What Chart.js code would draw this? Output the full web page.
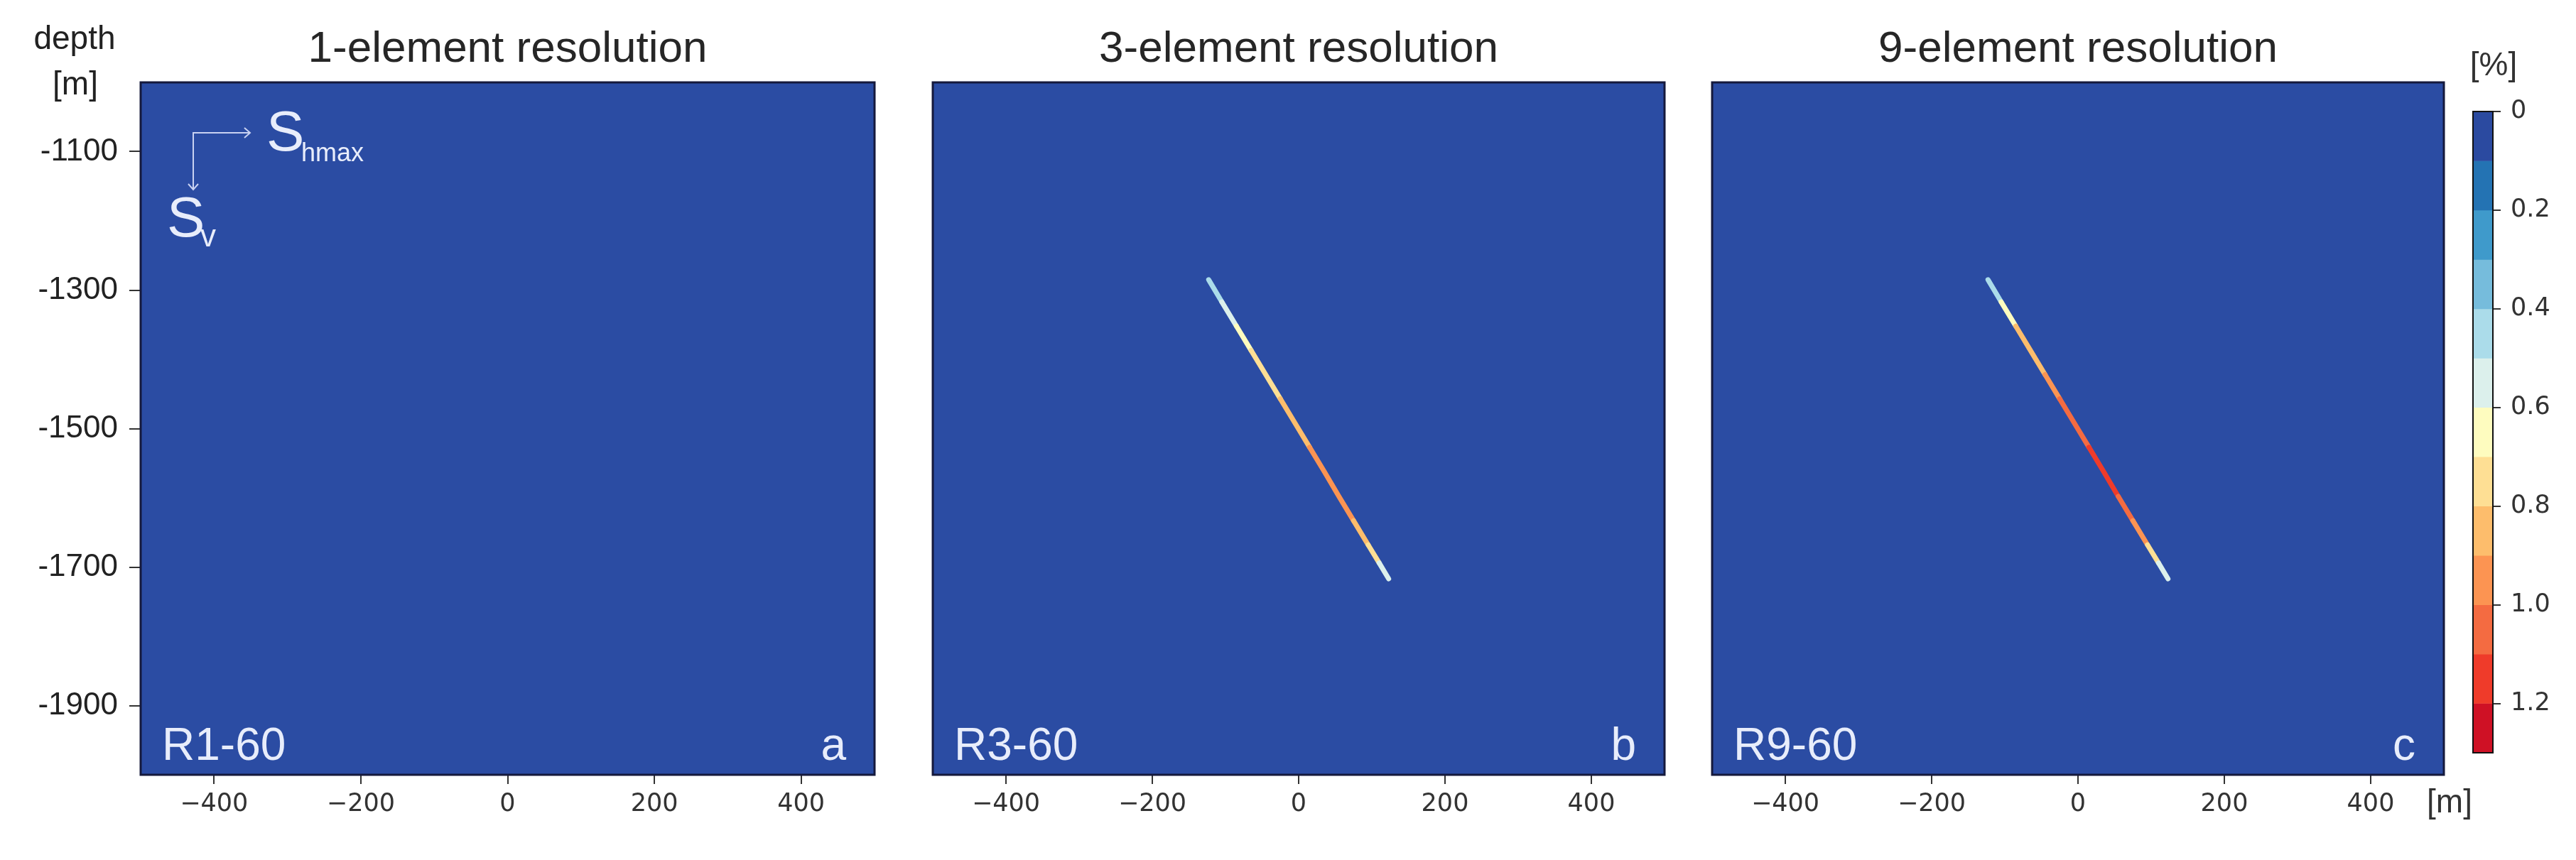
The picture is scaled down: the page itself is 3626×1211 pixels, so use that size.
<!DOCTYPE html>
<html>
<head>
<meta charset="utf-8">
<title>Fault strain by element resolution</title>
<script src="https://cdn.jsdelivr.net/npm/chart.js@4.4.1/dist/chart.umd.min.js"></script>
<style>
  body { margin: 0; background: #fff; width: 3626px; height: 1211px; position: relative; overflow: hidden; }
  canvas { position: absolute; top: 0; }
</style>
</head>
<body>
<canvas id="panelA" width="1262" height="1211" style="left:0px"></canvas>
<canvas id="panelB" width="1100" height="1211" style="left:1280px"></canvas>
<canvas id="panelC" width="1090" height="1211" style="left:2380px"></canvas>
<canvas id="colorbar" width="226" height="1211" style="left:3400px"></canvas>
<script>
// ----------------------------
// DATA
// ----------------------------
const panelTitles = ["1-element resolution", "3-element resolution", "9-element resolution"];
const modelNames = ["R1-60", "R3-60", "R9-60"];
const panelLetters = ["a", "b", "c"];

const xTicks = [-400, -200, 0, 200, 400];
const depthTicks = [-1100, -1300, -1500, -1700, -1900];

// trace of the 60 deg fault [m]
const faultX = [-123, -105, -85, -65, -45, -25, -5, 15, 35, 55, 75, 95, 110, 123];
const faultDepth = [-1285, -1317, -1352, -1387, -1422, -1457, -1492, -1527, -1562, -1598, -1633, -1668, -1694, -1717];

// strain [%] along the fault, rim of the band and its core
const rimR1 = [];
const coreR1 = [];
const rimR3 = [0.35, 0.5, 0.6, 0.65, 0.75, 0.8, 0.85, 0.9, 0.95, 0.95, 0.9, 0.8, 0.6, 0.4];
const coreR3 = [0.35, 0.5, 0.6, 0.7, 0.8, 0.85, 0.9, 1.0, 1.1, 1.1, 1.05, 0.9, 0.65, 0.4];
const rimR9 = [0.35, 0.6, 0.75, 0.85, 0.95, 1.0, 1.05, 1.1, 1.1, 1.1, 1.05, 0.9, 0.65, 0.4];
const coreR9 = [0.35, 0.6, 0.8, 0.95, 1.05, 1.1, 1.15, 1.2, 1.25, 1.25, 1.2, 1.0, 0.7, 0.4];

// colour scale [%]
const levels = [0, 0.1, 0.2, 0.3, 0.4, 0.5, 0.6, 0.7, 0.8, 0.9, 1.0, 1.1, 1.2, 1.3];
const levelColors = ["#2b4aa0", "#2473b3", "#3f9acb", "#76bcdc", "#abdcea", "#dcf0ec", "#fefcbf",
                     "#fedf94", "#fdbd6c", "#fc9452", "#f46b41", "#ef3b2a", "#cf1125"];
const colorbarTicks = [0, 0.2, 0.4, 0.6, 0.8, 1.0, 1.2];

const BG = "#2b4ca3";
const LIGHT = "#e8edfb";

Chart.defaults.font.family = "'Liberation Sans', Arial, sans-serif";
Chart.defaults.color = "#222";

function strainColor(v){
    for(let i = 0; i < levelColors.length; i++){
        if(v < levels[i + 1]) return levelColors[i];
    }
    return levelColors[levelColors.length - 1];
}

function faultDataset(values, width){
    return {
        data: values.map((v, i) => ({ x: faultX[i], y: faultDepth[i] })),
        showLine: true,
        pointRadius: 0,
        borderWidth: width,
        borderCapStyle: "round",
        borderJoinStyle: "round",
        borderColor: values.length ? strainColor(values[0]) : BG,
        segment: {
            borderColor: c => strainColor((values[c.p0DataIndex] + values[c.p1DataIndex]) / 2)
        }
    };
}

// ----------------------------
// PANEL DECORATION
// ----------------------------
const panelDecor = {
    id: "panelDecor",
    beforeDatasetsDraw(chart){
        const a = chart.chartArea, ctx = chart.ctx;
        ctx.save();
        ctx.fillStyle = BG;
        ctx.fillRect(a.left, a.top, a.right - a.left, a.bottom - a.top);
        ctx.restore();
    },
    afterDatasetsDraw(chart, args, opts){
        const a = chart.chartArea, ctx = chart.ctx;
        ctx.save();
        ctx.strokeStyle = "#15193c";
        ctx.lineWidth = 3;
        ctx.strokeRect(a.left, a.top, a.right - a.left, a.bottom - a.top);

        ctx.fillStyle = LIGHT;
        ctx.textBaseline = "alphabetic";
        ctx.font = "64px 'Liberation Sans', Arial";
        ctx.textAlign = "left";
        ctx.fillText(opts.model, a.left + 30, a.bottom - 21);
        ctx.textAlign = "right";
        ctx.fillText(opts.letter, a.right - 40, a.bottom - 21);

        if(opts.stress){
            const cx = a.left + 74, cy = a.top + 71;
            ctx.strokeStyle = "#c9d2f2";
            ctx.lineWidth = 2;
            ctx.beginPath();
            ctx.moveTo(cx + 80, cy); ctx.lineTo(cx, cy); ctx.lineTo(cx, cy + 80);
            ctx.moveTo(cx + 72, cy - 7); ctx.lineTo(cx + 80, cy); ctx.lineTo(cx + 72, cy + 7);
            ctx.moveTo(cx - 7, cy + 72); ctx.lineTo(cx, cy + 80); ctx.lineTo(cx + 7, cy + 72);
            ctx.stroke();

            ctx.textAlign = "left";
            ctx.font = "80px 'Liberation Sans', Arial";
            ctx.fillText("S", a.left + 177, a.top + 96);
            ctx.fillText("S", a.left + 37, a.top + 217);
            ctx.font = "36px 'Liberation Sans', Arial";
            ctx.fillText("hmax", a.left + 226, a.top + 111);
            ctx.font = "44px 'Liberation Sans', Arial";
            ctx.fillText("v", a.left + 84, a.top + 231);

            ctx.fillStyle = "#222";
            ctx.textAlign = "center";
            ctx.textBaseline = "middle";
            ctx.font = "46px 'Liberation Sans', Arial";
            ctx.fillText("depth", 105, 56);
            ctx.fillText("[m]", 106, 120);
        }
        ctx.restore();
    }
};

function makePanel(id, idx, rim, core, padLeft, padRight){
    const first = idx === 0;
    return new Chart(document.getElementById(id), {
        type: "scatter",
        data: { datasets: [faultDataset(rim, 7), faultDataset(core, 3)] },
        plugins: [panelDecor],
        options: {
            responsive: false,
            animation: false,
            devicePixelRatio: 1,
            layout: { padding: { left: padLeft, right: padRight, top: 0, bottom: 0 } },
            plugins: {
                legend: { display: false },
                tooltip: { enabled: false },
                title: {
                    display: true,
                    text: panelTitles[idx],
                    fullSize: false,
                    color: "#262626",
                    font: { size: 62, weight: "normal", lineHeight: 1 },
                    padding: { top: 39, bottom: 15 }
                },
                panelDecor: { model: modelNames[idx], letter: panelLetters[idx], stress: first }
            },
            scales: {
                x: {
                    type: "linear",
                    min: -500,
                    max: 500,
                    afterBuildTicks: s => { s.ticks = xTicks.map(v => ({ value: v })); },
                    afterFit: s => { s.height = 120; },
                    ticks: {
                        autoSkip: false,
                        maxRotation: 0,
                        padding: 8,
                        color: "#333",
                        font: { family: "'DejaVu Sans', sans-serif", size: 35 },
                        callback: v => String(v).replace("-", "\u2212")
                    },
                    grid: { drawOnChartArea: false, tickLength: 13, color: "#333", lineWidth: 2 },
                    border: { display: false }
                },
                y: {
                    type: "linear",
                    display: first,
                    min: -2000,
                    max: -1000,
                    afterBuildTicks: s => { s.ticks = depthTicks.map(v => ({ value: v })); },
                    afterFit: s => { s.width = first ? 198 : 0; },
                    ticks: {
                        autoSkip: false,
                        padding: 16,
                        color: "#222",
                        font: { size: 44 },
                        callback: v => String(v)
                    },
                    grid: { drawOnChartArea: false, tickLength: 16, color: "#333", lineWidth: 2 },
                    border: { display: false }
                }
            }
        }
    });
}

makePanel("panelA", 0, rimR1, coreR1, 0, 31);
makePanel("panelB", 1, rimR3, coreR3, 33, 37);
makePanel("panelC", 2, rimR9, coreR9, 30, 30);

// ----------------------------
// COLORBAR
// ----------------------------
const colorbarDecor = {
    id: "colorbarDecor",
    afterDatasetsDraw(chart){
        const a = chart.chartArea, ctx = chart.ctx;
        ctx.save();
        ctx.strokeStyle = "#111";
        ctx.lineWidth = 2;
        ctx.strokeRect(a.left, a.top, a.right - a.left, a.bottom - a.top);
        ctx.fillStyle = "#333";
        ctx.textAlign = "center";
        ctx.textBaseline = "middle";
        ctx.font = "46px 'Liberation Sans', Arial";
        ctx.fillText("[%]", 110, 93);
        ctx.fillText("[m]", 48, 1131);
        ctx.restore();
    }
};

new Chart(document.getElementById("colorbar"), {
    type: "bar",
    data: {
        labels: ["strain"],
        datasets: levelColors.map((c, i) => ({
            data: [[levels[i], levels[i + 1]]],
            backgroundColor: c,
            borderWidth: 0,
            grouped: false,
            barPercentage: 1,
            categoryPercentage: 1
        }))
    },
    plugins: [colorbarDecor],
    options: {
        responsive: false,
        animation: false,
        devicePixelRatio: 1,
        layout: { padding: { left: 81, right: 0, top: 157, bottom: 151 } },
        plugins: { legend: { display: false }, tooltip: { enabled: false } },
        scales: {
            x: { display: false },
            y: {
                position: "right",
                reverse: true,
                min: 0,
                max: 1.3,
                afterBuildTicks: s => { s.ticks = colorbarTicks.map(v => ({ value: v })); },
                afterFit: s => { s.width = 117; },
                ticks: {
                    autoSkip: false,
                    padding: 14,
                    color: "#333",
                    font: { family: "'DejaVu Sans', sans-serif", size: 35 },
                    callback: v => v === 0 ? "0" : v.toFixed(1)
                },
                grid: { drawOnChartArea: false, tickLength: 11, color: "#333", lineWidth: 2 },
                border: { display: false }
            }
        }
    }
});
</script>
</body>
</html>
